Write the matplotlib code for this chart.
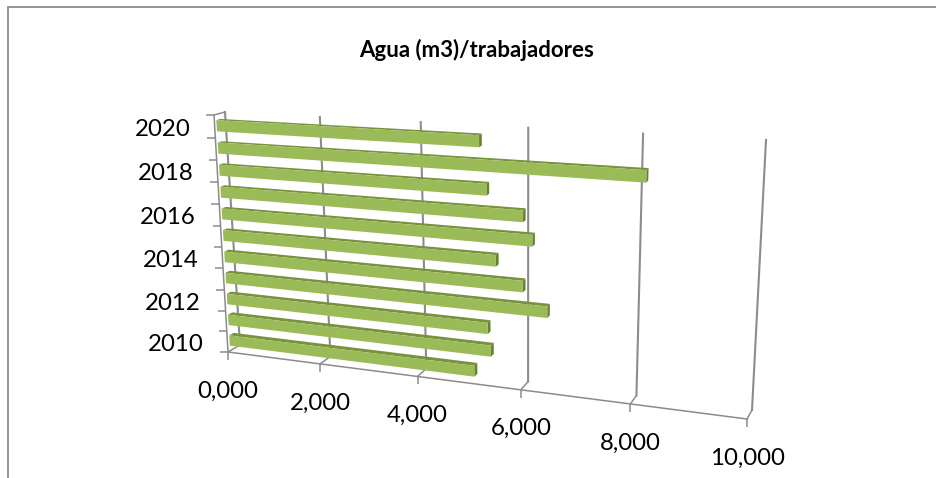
import numpy as np
import matplotlib
matplotlib.use('Agg')
import matplotlib.pyplot as plt
from matplotlib.transforms import Transform

# data
years = [2010, 2011, 2012, 2013, 2014, 2015, 2016, 2017, 2018, 2019, 2020]
agua = [5.09, 5.41, 5.35, 6.46, 6.01, 5.51, 6.18, 6.01, 5.34, 8.15, 5.21]
value_ticks = [0, 2, 4, 6, 8, 10]
value_labels = ['0,000', '2,000', '4,000', '6,000', '8,000', '10,000']
year_labels = {2010: '2010', 2012: '2012', 2014: '2014', 2016: '2016', 2018: '2018', 2020: '2020'}
title = 'Agua (m3)/trabajadores'

# pixel corners of the box: (0,bottom), (max,bottom), (max,top), (0,top)
front_corners = np.array([[228, 352], [747, 419], [761, 146], [214, 115]], float)
back_corners = np.array([[240, 345], [752, 410], [766, 140], [225, 112]], float)
n_cat = len(years)
v_max = 10.0


class Persp(Transform):
    # perspective plane inside the 3d box, depth 0 = front, 1 = back
    input_dims = 2
    output_dims = 2

    def __init__(self, depth):
        super().__init__()
        dst = front_corners * (1 - depth) + back_corners * depth
        src = [(0, 0), (v_max, 0), (v_max, n_cat), (0, n_cat)]
        A, b = [], []
        for (x, y), (u, w) in zip(src, dst):
            A.append([x, y, 1, 0, 0, 0, -u * x, -u * y])
            A.append([0, 0, 0, x, y, 1, -w * x, -w * y])
            b += [u, w]
        self.h = np.append(np.linalg.solve(np.array(A), np.array(b)), 1).reshape(3, 3)

    def transform_non_affine(self, xy):
        xy = np.asarray(xy, float)
        p = np.column_stack([xy, np.ones(len(xy))]) @ self.h.T
        return p[:, :2] / p[:, 2:]


fig = plt.figure(figsize=(9.37, 4.78), dpi=100)
ax = fig.add_axes([0, 0, 1, 1])
ax.set_xlim(0, 937)
ax.set_ylim(478, 0)
ax.axis('off')
plt.rcParams['font.family'] = ['Lato', 'DejaVu Sans']

front = Persp(0) + ax.transData
back = Persp(1) + ax.transData
bar_front = Persp(0.18) + ax.transData

grid_col = '#8c8c8c'
# outer frame
ax.plot([8, 8, 937], [478, 7, 7], color='#8a8a8a', lw=1.3, solid_joinstyle='miter')

# back wall grid
for v in value_ticks:
    ax.plot([v, v], [0, n_cat], color=grid_col, lw=1.5, transform=back)
    a = Persp(0).transform([(v, 0)])[0]
    b = Persp(1).transform([(v, 0)])[0]
    ax.plot([a[0], b[0]], [a[1], b[1]], color=grid_col, lw=1.1)

# left wall top edge and the two axis lines
a = Persp(0).transform([(0, n_cat)])[0]
b = Persp(1).transform([(0, n_cat)])[0]
ax.plot([a[0], b[0]], [a[1], b[1]], color=grid_col, lw=1.1)
ax.plot([0, 0], [0, n_cat], color=grid_col, lw=1.1, transform=front)
ax.plot([0, v_max], [0, 0], color=grid_col, lw=1.1, transform=front)

# ticks
ax.plot(value_ticks, [0] * len(value_ticks), ls='', marker=3, ms=5.8, mew=1.1, color=grid_col, transform=front)
ax.plot([0] * (n_cat + 1), range(n_cat + 1), ls='', marker=0, ms=5.8, mew=1.1, color=grid_col, transform=front)

# bars, drawn as front, top and end faces
half = 0.25
for i, val in enumerate(agua):
    t0, t1 = i + 0.5 - half, i + 0.5 + half
    f = Persp(0.18).transform([(0, t1), (val, t1), (val, t0)])
    k = Persp(0.55).transform([(0, t1), (val, t1), (val, t0)])
    ax.fill([f[0][0], f[1][0], k[1][0], k[0][0]], [f[0][1], f[1][1], k[1][1], k[0][1]],
            color='#76943c', lw=0, zorder=3)
    ax.fill([f[1][0], k[1][0], k[2][0], f[2][0]], [f[1][1], k[1][1], k[2][1], f[2][1]],
            color='#66822f', lw=0, zorder=3)
    ax.fill([0, val, val, 0], [t0, t0, t1, t1], color='#9bbb59', lw=0, zorder=4, transform=bar_front)

# tick labels
for v, lab in zip(value_ticks, value_labels):
    ax.annotate(lab, xy=(v, 0), xycoords=front, xytext=(0, -39), textcoords='offset pixels',
                ha='center', va='center', fontsize=17.3, color='black')
for i, y in enumerate(years):
    if y in year_labels:
        ax.annotate(year_labels[y], xy=(0, i + 0.5), xycoords=front, xytext=(-24, -3), textcoords='offset pixels',
                    ha='right', va='center', fontsize=17.3, color='black')

ax.text(477, 50, title, ha='center', va='center', fontsize=16, fontweight='bold', color='black')

fig.savefig('out.png', dpi=100)
